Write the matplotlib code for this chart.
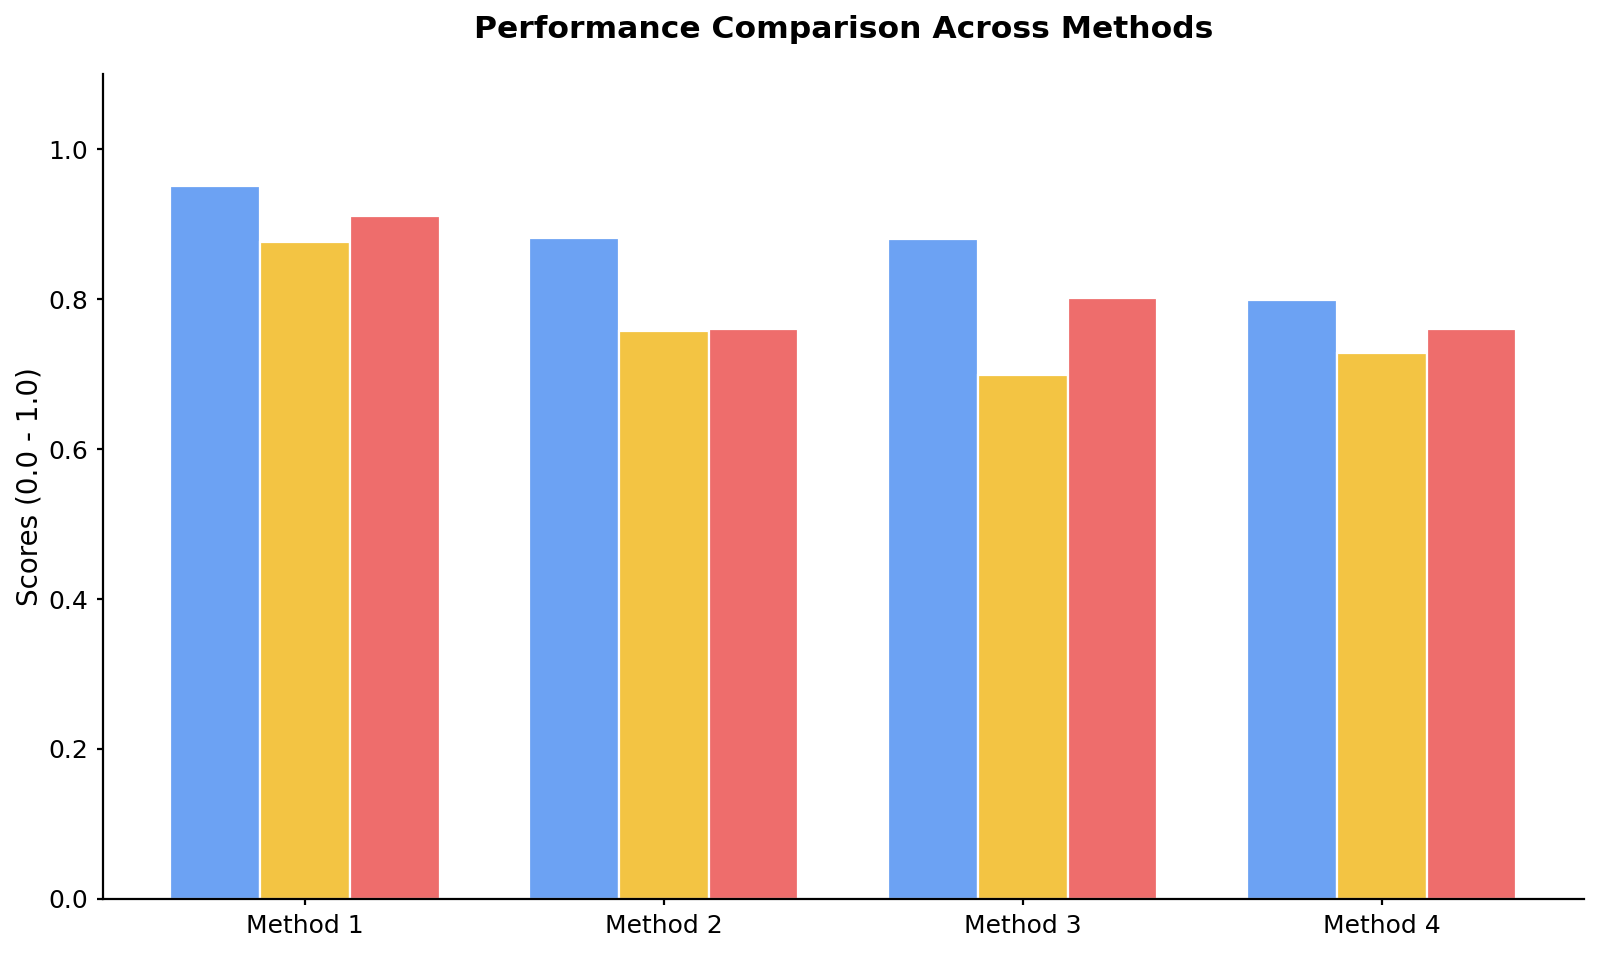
import matplotlib.pyplot as plt
import numpy as np

methods = ["Method 1", "Method 2", "Method 3", "Method 4"]
series_a = [0.951, 0.882, 0.881, 0.799]
series_b = [0.876, 0.758, 0.699, 0.728]
series_c = [0.911, 0.760, 0.802, 0.761]
colors = ["#6CA2F3", "#F3C443", "#EE6D6C"]

fig, ax = plt.subplots(figsize=(8, 4.775), dpi=200)
x = np.arange(len(methods))
w = 0.25
for i, vals in enumerate([series_a, series_b, series_c]):
    ax.bar(x + (i - 1) * w, vals, w, color=colors[i], edgecolor="white", linewidth=0.8)

ax.set_xticks(x)
ax.set_xticklabels(methods, fontsize=9)
ax.tick_params(axis="y", labelsize=9)
ax.tick_params(length=2)
ax.set_ylim(0, 1.1)
ax.set_yticks([0.0, 0.2, 0.4, 0.6, 0.8, 1.0])
ax.set_ylabel("Scores (0.0 - 1.0)", fontsize=10, labelpad=1.5)
ax.set_title("Performance Comparison Across Methods", fontsize=11.3, fontweight="bold", pad=13)
ax.spines["top"].set_visible(False)
ax.spines["right"].set_visible(False)

fig.subplots_adjust(left=0.0644, right=0.9898, bottom=0.0588, top=0.922)
fig.savefig("out.png")
